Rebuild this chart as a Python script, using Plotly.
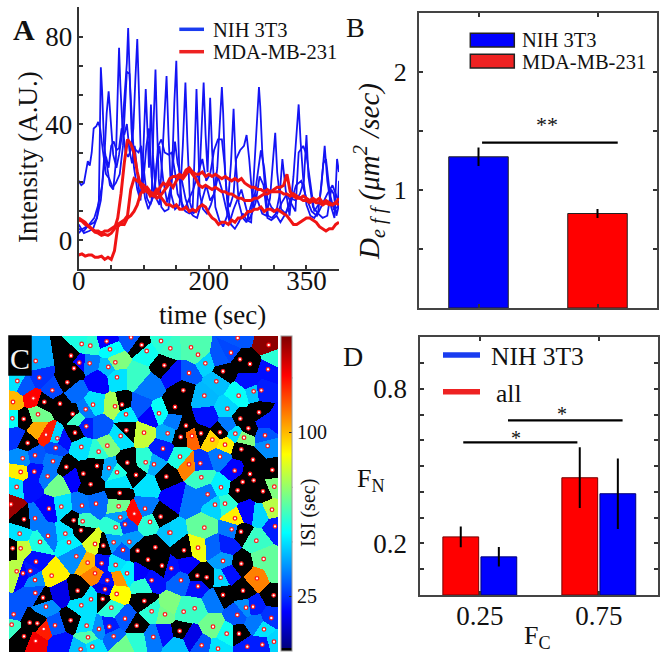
import numpy as np
import plotly.graph_objects as go

W, H = 667, 652
FONT = "Liberation Serif"
BLUE, RED = "#1414f5", "#f01414"

# ---------- Panel A: intensity traces (time, intensity) ----------
blue_a = [(0,-10),(6,-8),(12,-7),(18,-6),(24,-5),(28,-3),(31,5),(33,45),(34,66),(36,55),(39,30),(43,22),(48,12),(53,10),(57,22),(60,55),(62,75),(64,58),(67,40),(72,27),(76,25),(80,28),(84,38),(87,60),(90,79),(92,60),(95,30),(98,15),(102,6),(107,1),(112,5),(115,40),(118,65),(120,42),(123,15),(127,2),(132,0),(138,1),(143,14),(147,50),(150,69),(152,45),(155,15),(159,2),(164,0),(170,-1),(175,0),(178,25),(181,56),(183,38),(186,8),(191,1),(197,-1),(203,3),(208,8),(213,20),(217,42),(220,57),(222,45),(225,18),(229,2),(234,-6),(240,-8),(246,-5),(252,-1),(258,-4),(265,-5),(270,20),(274,42),(277,57),(279,48),(282,28),(286,12),(291,-2),(297,-3),(303,-1),(309,8),(313,24),(318,10),(324,-2),(330,16),(335,35),(338,49),(341,32),(345,15),(350,3),(356,-2),(362,-3),(368,0),(373,12),(378,30),(382,14),(388,2),(393,-3),(397,24),(400,18)]
blue_b = [(0,-8),(8,-9),(16,-6),(24,-3),(30,3),(36,12),(40,28),(43,45),(46,55),(49,42),(53,26),(58,20),(62,26),(66,34),(70,50),(74,68),(76,84),(78,65),(81,38),(85,20),(90,10),(95,5),(99,25),(103,56),(105,38),(108,20),(111,49),(114,26),(119,6),(124,3),(129,28),(133,52),(135,62),(138,35),(142,8),(148,1),(155,3),(160,30),(164,59),(167,32),(171,4),(176,-1),(182,1),(187,25),(192,59),(195,35),(198,18),(202,52),(205,28),(210,2),(216,-4),(222,-7),(228,-2),(234,22),(238,47),(241,24),(246,4),(252,-3),(258,-5),(264,2),(270,8),(276,4),(282,-1),(288,-2),(294,6),(299,25),(302,36),(305,18),(311,1),(318,-1),(326,6),(333,5),(340,8),(346,14),(350,35),(353,16),(360,2),(368,-1),(375,-3),(382,-2),(388,10),(392,8),(396,-2),(400,3)]
blue_c = [(0,14),(4,12),(8,13),(12,20),(14,23),(17,21),(20,27),(23,38),(27,39),(30,41),(33,38),(37,28),(42,17),(47,15),(52,11),(57,13),(63,17),(68,30),(70,40),(74,64),(78,63),(80,50),(84,30),(88,28),(92,27),(96,30),(100,18),(105,6),(110,3),(116,8),(122,30),(127,33),(132,27),(138,26),(143,27),(148,18),(152,8),(158,4),(163,1),(170,6),(176,10),(184,18),(190,24),(196,14),(202,17),(208,28),(214,33),(220,33),(224,22),(228,6),(232,2),(238,8),(242,24),(248,28),(254,30),(258,35),(262,24),(268,2),(274,14),(280,28),(285,20),(290,6),(296,2),(305,-1),(312,4),(320,8),(326,4),(333,0),(338,27),(345,30),(350,26),(356,14),(362,0),(370,4),(376,22),(380,24),(386,8),(392,1),(398,2),(400,14)]
blue_d = [(0,-6),(8,-10),(16,-9),(22,-8),(28,-3),(34,5),(38,18),(42,25),(46,20),(50,30),(54,32),(58,28),(62,29),(66,38),(70,35),(74,40),(78,28),(82,22),(86,30),(90,17),(94,6),(100,16),(104,30),(108,38),(112,16),(116,6),(120,22),(124,30),(130,14),(136,4),(142,12),(148,32),(152,22),(158,15),(164,6),(170,0),(176,-2),(182,-3),(190,6),(196,12),(202,5),(208,8),(214,16),(220,10),(226,2),(232,-5),(238,1),(244,6),(250,10),(256,3),(262,-4),(266,-1),(272,4),(278,16),(284,12),(290,-3),(296,-4),(304,-2),(310,-5),(318,-1),(326,4),(334,12),(342,14),(350,6),(358,0),(366,-2),(374,3),(382,8),(390,12),(400,4)]
# red traces sampled every 5 s
red_a = [-4,-4.5,-6,-6.5,-8,-9.5,-10,-11,-10.5,-11,-10,-8,-3,8,22,33,31,27,18,12,9,10,7,8,6,7,5,3,3,2,3,1,1,2,0,1,0,2,3,2,-1,-3,-4,-6,-5,-5,-6,-4,-5,-3,-3,-2,0,0,1,1,2,0,1,1,0,1,0,-1,-2,-4,-6,-6,-5,-4,-3,-3,-4,-5,-7,-8,-9,-8,-8,-6,-5]
red_b = [-20,-19.5,-20.5,-20,-20,-21,-21,-20.5,-22,-21,-22,-18,-7,-5.5,-6,-3,-2,0,3,8,10,11,9,8,10,7,9,11,13,11,14,16,15,17,19,17,15,12,11,12,11,10,11,10,9,9,8,8,7,6,6,5,5,5,6,6,7,8,8,9,10,11,11,12,17,9,7,6,6,5,5,4,5,4,4,3,4,3,3,4,3]
red_c = [-3,-4,-5,-7,-8,-9,-9,-10,-9,-9,-8,-7,-6,-5,-4,-2,10,15,14,13,12,9,8,7,8,11,13,12,15,16,16,17,16,19,20,18,17,17,18,16,17,16,17,16,15,16,15,14,15,14,15,13,12,11,11,10,10,9,10,9,9,9,9,8,8,7,8,7,6,7,6,5,6,5,6,4,5,4,3,4,6]

# ---------- Panel B ----------
b_cat = [1, 2]
b_val = [1.28, 0.80]
b_err = [0.07, 0.03]
b_sig_x, b_sig_y = [1.03, 2.17], [1.40, 1.40]

# ---------- Panel D ----------
d_cat = [1, 2]
d_all = [0.2255, 0.455]
d_all_err = [0.036, 0.114]
d_nih = [0.148, 0.393]
d_nih_err = [0.034, 0.133]
d_sig1_x, d_sig1_y = [0.861, 1.82], [0.592, 0.592]
d_sig2_x, d_sig2_y = [1.237, 2.2], [0.678, 0.678]

# ---------- Panel C: Voronoi seeds (x, y, ISI), grouped by image tile ----------
tile_tl = [(245,42,58),(271,47,60),(320,34,18),(330,58,54),(393,22,30),(425,45,0),(440,63,56),(483,33,60),(493,106,0),(107,93,42),(213,77,0),(238,98,18),(222,115,0),(269,100,35),(346,97,72),(325,111,45),(118,143,25),(202,157,0),(157,181,28),(52,153,50),(351,142,50),(100,205,126),(39,216,100),(133,216,0),(180,221,0),(279,224,50),(345,229,78),(366,224,0),(257,238,35),(218,252,0),(114,253,70),(378,253,52),(477,250,55),(37,265,55),(71,267,0),(259,289,22),(379,301,0),(432,308,82),(503,310,42),(138,314,122),(225,308,0),(172,325,48),(362,318,50),(83,339,0),(322,347,72),(244,351,50),(167,354,28),(489,356,22),(296,365,60),(68,385,38),(105,376,30),(159,394,35),(437,397,60),(382,398,0),(462,403,42),(199,411,0),(291,408,0),(327,414,42),(351,427,58),(62,426,92),(103,425,20),(250,431,0),(143,439,35),(408,435,0),(499,440,0),(50,471,50),(272,463,0)]
tile_tr = [(63,52,65),(84,74,65),(203,24,30),(183,68,28),(296,45,142),(210,88,0),(240,102,0),(106,100,48),(294,118,20),(57,129,30),(159,124,0),(139,154,45),(251,184,46),(274,181,22),(40,181,0),(103,197,44),(206,197,55),(172,236,48),(15,231,0),(267,247,0),(211,266,0),(48,287,0),(235,295,0),(32,321,0),(66,318,112),(93,310,0),(150,307,0),(196,311,50),(222,323,72),(127,329,96),(165,344,92),(285,316,30),(293,348,38),(214,358,0),(30,380,58),(150,380,35),(57,403,108),(91,400,25),(249,389,0),(194,422,18),(307,420,0),(240,432,0),(94,442,62),(218,456,0),(251,451,0),(153,472,52),(313,470,72),(1,55,62)]
tile_bl = [(33,43,140),(147,56,18),(184,50,50),(246,47,35),(288,41,33),(359,9,0),(356,49,70),(435,56,35),(403,71,125),(361,82,40),(72,88,0),(105,85,35),(221,91,0),(248,94,62),(375,103,28),(450,96,60),(482,80,0),(347,112,60),(243,121,0),(59,131,50),(144,138,35),(196,131,50),(508,128,45),(120,156,58),(207,157,52),(285,162,85),(310,167,0),(341,157,40),(388,156,40),(38,175,0),(62,175,82),(369,180,30),(413,182,0),(466,172,0),(229,199,38),(444,209,0),(108,215,20),(263,218,100),(305,220,20),(347,225,50),(486,227,0),(50,244,80),(69,250,18),(91,243,22),(155,257,92),(285,250,108),(381,250,52),(322,271,20),(105,270,38),(455,271,20),(315,298,15),(233,302,0),(106,309,30),(350,312,90),(129,323,0),(273,328,50),(308,327,0),(433,333,0),(244,346,50),(138,350,38),(334,353,60),(455,364,60),(495,373,70),(41,373,30),(375,386,30),(212,391,0),(89,398,0),(112,400,0),(35,404,62),(165,406,30),(410,407,0),(260,407,50),(297,417,38),(328,410,22),(131,417,122),(72,439,0),(341,439,32),(460,441,35),(264,442,65),(107,453,128),(277,470,50),(242,478,45)]
tile_br = [(113,13,35),(203,1,0),(279,4,0),(135,44,48),(165,41,60),(195,85,92),(306,59,80),(315,109,22),(103,113,68),(185,118,35),(213,125,0),(259,152,62),(84,173,88),(42,181,0),(1,128,48),(281,207,68),(159,213,40),(214,221,0),(4,235,20),(82,257,0),(110,262,0),(152,263,48),(33,271,32),(261,265,108),(84,289,20),(219,302,0),(159,315,0),(311,316,0),(228,353,38),(249,350,22),(74,355,62),(41,365,62),(202,375,30),(304,384,25),(129,410,70),(282,418,50),(29,423,0),(170,431,56),(207,431,0),(312,455,48),(95,466,30),(144,476,50),(232,470,22),(277,464,22)]
# cells whose centre mark is hidden
hidden_tl = [(75,165,30),(115,300,102),(230,265,62),(185,330,20),(295,150,18),(225,185,33),(410,140,62),(420,230,30),(445,170,35),(450,260,18),(300,290,30),(45,320,25),(220,440,18),(170,465,70),(360,460,50),(440,465,50),(90,470,20)]
hidden_tr = [(110,265,20),(240,155,20),(175,285,35),(285,275,22),(315,275,20),(310,85,60),(150,85,30),(10,275,35),(10,130,20)]
hidden_bl = [(355,262,105),(180,460,20),(180,310,15),(430,285,60),(420,250,18),(370,470,70),(410,450,60),(495,430,20)]
hidden_br = [(50,225,18),(130,170,32),(170,165,22),(270,75,48),(230,70,18),(130,330,35),(65,445,15),(315,240,68),(0,350,72),(20,465,45),(255,400,35),(15,20,18),(60,30,35),(175,250,20)]
cbar_minor = [50, 75, 125]

ORIGINS = {"tl": (0, 990), "tr": (510, 990), "bl": (0, 1470), "br": (510, 1470)}
def place(seeds, key):
    ox, oy = ORIGINS[key]
    return [(x + ox, y + oy, v) for x, y, v in seeds]
marked = place(tile_tl,"tl") + place(tile_tr,"tr") + place(tile_bl,"bl") + place(tile_br,"br")
hidden = place(hidden_tl,"tl") + place(hidden_tr,"tr") + place(hidden_bl,"bl") + place(hidden_br,"br")
allseeds = np.array(marked + hidden, dtype=float)
gx = np.arange(28.5, 834, 3.0)
gy = np.arange(1009.5, 1956, 3.0)
GX, GY = np.meshgrid(gx, gy)
dist = (GX[..., None] - allseeds[:, 0])**2 + (GY[..., None] - allseeds[:, 1])**2
Z = allseeds[:, 2][dist.argmin(axis=2)]

def dom_x(a, b): return [a / W, b / W]
def dom_y(top, bottom): return [1 - bottom / H, 1 - top / H]

fig = go.Figure()

# Panel A
for tr in (blue_a, blue_b, blue_c, blue_d):
    fig.add_trace(go.Scatter(x=[p[0] for p in tr], y=[p[1] for p in tr], mode="lines", line=dict(color=BLUE, width=1.8), xaxis="x", yaxis="y", showlegend=False))
for tr in (red_a, red_b, red_c):
    fig.add_trace(go.Scatter(x=[5*i for i in range(len(tr))], y=tr, mode="lines", line=dict(color=RED, width=3), xaxis="x", yaxis="y", showlegend=False))

# Panel B
fig.add_trace(go.Bar(x=b_cat, y=b_val, width=0.5, marker=dict(color=["#0000ff","#ff0000"], line=dict(color="#222", width=1)),
                     error_y=dict(type="data", array=b_err, color="black", thickness=2, width=1), xaxis="x2", yaxis="y2", showlegend=False))
fig.add_trace(go.Scatter(x=b_sig_x, y=b_sig_y, mode="lines", line=dict(color="black", width=2.2), xaxis="x2", yaxis="y2", showlegend=False))

# Panel C
colors = [[0,"#000000"],[0.008,"#000000"],[0.008,"#00007f"],[0.125,"#0000ff"],[0.375,"#00ffff"],[0.625,"#ffff00"],[0.875,"#ff0000"],[1,"#7f0000"]]
fig.add_trace(go.Heatmap(x=gx, y=gy, z=Z, zmin=0, zmax=144, colorscale=colors, xaxis="x3", yaxis="y3", hoverinfo="skip",
    colorbar=dict(x=281.3/W, xanchor="left", y=1-336/H, yanchor="top", lenmode="pixels", len=315, thicknessmode="pixels", thickness=11,
                  xpad=0, ypad=0, tickvals=[25,100], ticktext=["25","100"], ticks="inside", ticklen=3, tickcolor="#222",
                  outlinecolor="#999", outlinewidth=1, tickfont=dict(family=FONT, size=20, color="#111"))))
fig.add_trace(go.Scatter(x=[s[0] for s in marked], y=[s[1] for s in marked], mode="markers",
    marker=dict(size=3.6, color="#ffffff", line=dict(color="#ff1414", width=1.2)), xaxis="x3", yaxis="y3", showlegend=False))

# Panel D
fig.add_trace(go.Bar(x=d_cat, y=d_all, marker=dict(color="#ff0000", line=dict(color="#700", width=1)),
    error_y=dict(type="data", array=d_all_err, color="black", thickness=2, width=1), xaxis="x4", yaxis="y4", showlegend=False))
fig.add_trace(go.Bar(x=d_cat, y=d_nih, marker=dict(color="#0000ff", line=dict(color="#007", width=1)),
    error_y=dict(type="data", array=d_nih_err, color="black", thickness=2, width=1), xaxis="x4", yaxis="y4", showlegend=False))
for sx, sy in [(d_sig1_x,d_sig1_y),(d_sig2_x,d_sig2_y)]:
    fig.add_trace(go.Scatter(x=sx, y=sy, mode="lines", line=dict(color="black", width=2.2), xaxis="x4", yaxis="y4", showlegend=False))

AXC = "#333333"
tf = dict(family=FONT, size=27, color="#111")
common = dict(showgrid=False, zeroline=False, showline=True, linewidth=2, ticks="inside", ticklen=4, tickwidth=1.5, tickcolor=AXC)
minor = lambda vals: dict(tickvals=vals, ticks="inside", ticklen=4, tickwidth=1.5, tickcolor=AXC, showgrid=False)
layout = dict(
    width=W, height=H, margin=dict(l=0, r=0, t=0, b=0, autoexpand=False), paper_bgcolor="white", plot_bgcolor="white",
    barmode="group", bargap=0.36, bargroupgap=0.06, showlegend=False, font=dict(family=FONT, color="#111"),
    xaxis=dict(domain=dom_x(78.7,339), range=[0,400], anchor="y", tickvals=[0,200,350], ticktext=["0","200","350"], minor=minor([50,100,150,250,300,400]),
               linecolor=AXC, tickfont=tf, ticklabelstandoff=-13, **common),
    yaxis=dict(domain=dom_y(7.3,269), range=[-26.4,93.5], anchor="x", tickvals=[-13.33,40,80], ticktext=["0","40","80"], minor=minor([0,13.33,26.67,53.33,66.67,93.33]),
               linecolor=AXC, tickfont=tf, ticklabelstandoff=-1, **common),
    xaxis2=dict(domain=dom_x(419,657), range=[0.5,2.5], anchor="y2", tickvals=[1,2], showticklabels=False, linecolor="#444", mirror="allticks", **common),
    yaxis2=dict(domain=dom_y(12.7,308), range=[0,2.5], anchor="x2", tickvals=[1,2], ticktext=["1","2"], minor=minor([0.5,1.5]), linecolor="#444", mirror="allticks",
                tickfont=dict(family=FONT, size=26, color="#111"), ticklabelstandoff=5, **common),
    xaxis3=dict(domain=dom_x(9,278), range=[27,834], anchor="y3", visible=False),
    yaxis3=dict(domain=dom_y(336,652), range=[1956,1008], anchor="x3", visible=False),
    xaxis4=dict(domain=dom_x(420.3,658.3), range=[0.5,2.5], anchor="y4", tickvals=[1,2], ticktext=["0.25","0.75"], linecolor="#444", mirror="allticks", tickfont=tf, ticklabelstandoff=-4, **common),
    yaxis4=dict(domain=dom_y(337.3,595), range=[0,1], anchor="x4", tickvals=[.2,.8], ticktext=["0.2","0.8"], minor=minor([.1,.3,.4,.5,.6,.7,.9]), linecolor="#444", mirror="allticks", tickfont=tf, ticklabelstandoff=6, **common),
)
fig.update_layout(**layout)

def text(x, y, s, size=27, color="#111", anchor="center", angle=0, bold=False):
    t = f"<b>{s}</b>" if bold else s
    fig.add_annotation(x=x/W, y=1-y/H, xref="paper", yref="paper", text=t, showarrow=False, xanchor=anchor, yanchor="middle",
                       textangle=angle, font=dict(family=FONT, size=size, color=color))

def pline(x0, x1, y, color, width):
    fig.add_shape(type="line", xref="paper", yref="paper", x0=x0/W, x1=x1/W, y0=1-y/H, y1=1-y/H, line=dict(color=color, width=width))

def prect(x0, y0, x1, y1, fill, line="#222"):
    fig.add_shape(type="rect", xref="paper", yref="paper", x0=x0/W, x1=x1/W, y0=1-y0/H, y1=1-y1/H, fillcolor=fill, line=dict(color=line, width=1.5))

# A texts
text(24, 30, "A", 30, bold=True)
text(212, 315, "time (sec)", 27)
text(28, 157, "Intensity (A.U.)", 27, angle=-90)
pline(179.3, 204, 29.3, "#1a3cf0", 3.5)
pline(179.3, 204, 51.7, "#ee2222", 3.5)
text(210.5, 30, "NIH 3T3", 20.5, anchor="left")
text(210.5, 52, "MDA-MB-231", 20.5, anchor="left")
# B texts
text(355, 28, "B", 28)
prect(470.3, 33.3, 514.3, 47, "#0000ff")
prect(470.3, 54.3, 514.3, 68, "#ee2222")
text(519.5, 40, "NIH 3T3", 20.5, anchor="left")
text(519.5, 62, "MDA-MB-231", 20.5, anchor="left")
text(547, 124, "**", 22)
text(369, 172, "<i>D<sub>e f f</sub> (μm<sup>2</sup> /sec)</i>", 29, angle=-90)
# C texts
prect(9, 336, 31, 375, "#000000", "#000000")
text(20, 358, "C", 30, color="#f4f4f4")
text(308, 513, "ISI (sec)", 20, angle=-90)
for v in cbar_minor:
    pline(289.3, 292.3, 651.3 - v * 2.187, "#222", 1)
# D texts
text(353, 357, "D", 28)
pline(443, 480, 355, "#1a3cf0", 5.5)
pline(443, 480, 391.7, "#ee2222", 5.5)
text(489, 357, "NIH 3T3", 25.5, anchor="left")
text(494, 393, "all", 25.5, anchor="left")
text(516, 438, "*", 20)
text(562, 414, "*", 20)
text(355, 480, "F<sub>N</sub>", 26, anchor="left")
text(537, 637, "F<sub>C</sub>", 26)

fig.write_html("out.html", config=dict(displayModeBar=False), post_script="document.body.style.margin='0';document.body.style.overflow='hidden';")
